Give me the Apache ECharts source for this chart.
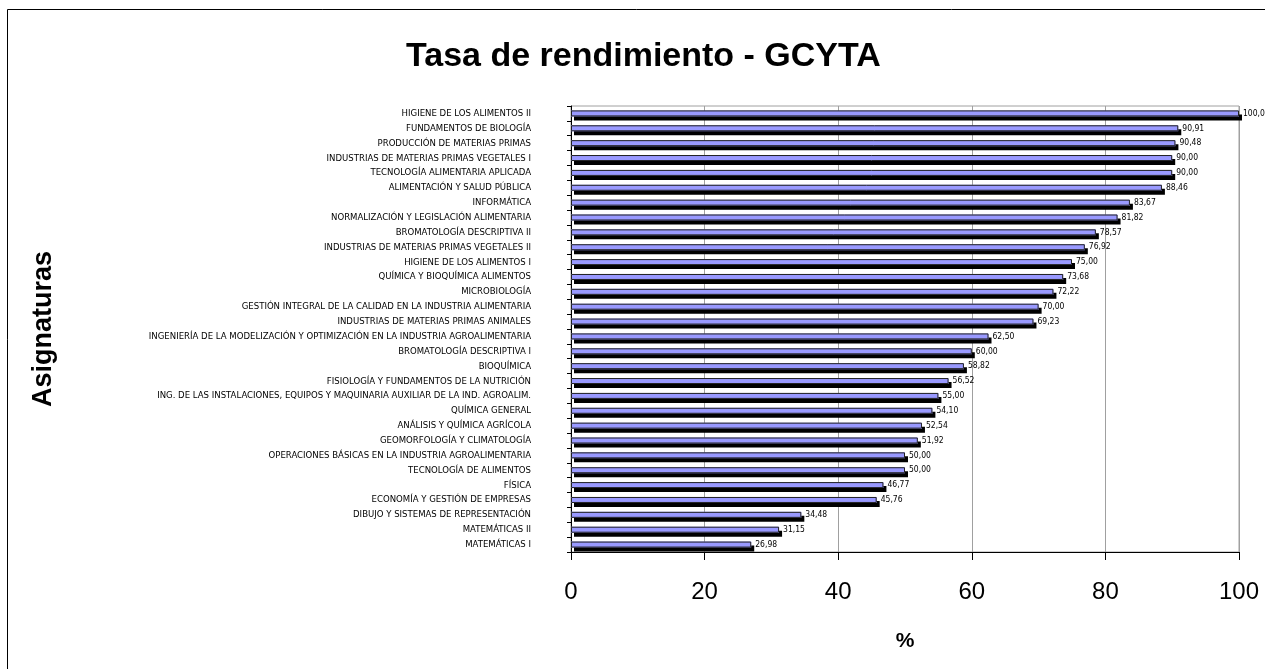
<!DOCTYPE html>
<html>
<head>
<meta charset="utf-8">
<script src="https://cdn.jsdelivr.net/npm/echarts@6/dist/echarts.min.js"></script>
<style>
html,body{margin:0;padding:0;background:#fff;}
#c{width:1265px;height:669px;}
</style>
</head>
<body>
<div id="c"></div>
<script>
const titleText = 'Tasa de rendimiento - GCYTA';
const xAxisName = '%';
const yAxisName = 'Asignaturas';
const categories = [
  'HIGIENE DE LOS ALIMENTOS II',
  'FUNDAMENTOS DE BIOLOGÍA',
  'PRODUCCIÓN DE MATERIAS PRIMAS',
  'INDUSTRIAS DE MATERIAS PRIMAS VEGETALES I',
  'TECNOLOGÍA ALIMENTARIA APLICADA',
  'ALIMENTACIÓN Y SALUD PÚBLICA',
  'INFORMÁTICA',
  'NORMALIZACIÓN Y LEGISLACIÓN ALIMENTARIA',
  'BROMATOLOGÍA DESCRIPTIVA II',
  'INDUSTRIAS DE MATERIAS PRIMAS VEGETALES II',
  'HIGIENE DE LOS ALIMENTOS I',
  'QUÍMICA Y BIOQUÍMICA ALIMENTOS',
  'MICROBIOLOGÍA',
  'GESTIÓN INTEGRAL DE LA CALIDAD EN LA INDUSTRIA ALIMENTARIA',
  'INDUSTRIAS DE MATERIAS PRIMAS ANIMALES',
  'INGENIERÍA DE LA MODELIZACIÓN Y OPTIMIZACIÓN EN LA INDUSTRIA AGROALIMENTARIA',
  'BROMATOLOGÍA DESCRIPTIVA I',
  'BIOQUÍMICA',
  'FISIOLOGÍA Y FUNDAMENTOS DE LA NUTRICIÓN',
  'ING. DE LAS INSTALACIONES, EQUIPOS Y MAQUINARIA AUXILIAR DE LA IND. AGROALIM.',
  'QUÍMICA GENERAL',
  'ANÁLISIS Y QUÍMICA AGRÍCOLA',
  'GEOMORFOLOGÍA Y CLIMATOLOGÍA',
  'OPERACIONES BÁSICAS EN LA INDUSTRIA AGROALIMENTARIA',
  'TECNOLOGÍA DE ALIMENTOS',
  'FÍSICA',
  'ECONOMÍA Y GESTIÓN DE EMPRESAS',
  'DIBUJO Y SISTEMAS DE REPRESENTACIÓN',
  'MATEMÁTICAS II',
  'MATEMÁTICAS I'
];
const values = [
  100.00, 90.91, 90.48, 90.00, 90.00, 88.46, 83.67, 81.82, 78.57, 76.92,
  75.00, 73.68, 72.22, 70.00, 69.23, 62.50, 60.00, 58.82, 56.52, 55.00,
  54.10, 52.54, 51.92, 50.00, 50.00, 46.77, 45.76, 34.48, 31.15, 26.98
];
const xTicks = { min: 0, max: 100, interval: 20 };

const narrow = '"Liberation Sans Narrow","Arial Narrow","DejaVu Sans Condensed","Liberation Sans",Arial,sans-serif';
const sans = '"Liberation Sans",Arial,Helvetica,sans-serif';

const chart = echarts.init(document.getElementById('c'), null, { renderer: 'canvas' });
chart.setOption({
  animation: false,
  backgroundColor: '#fff',
  title: {
    text: titleText,
    left: 401,
    top: 35,
    textStyle: { fontFamily: sans, fontSize: 34, fontWeight: 'bold', color: '#000' }
  },
  graphic: [{
    type: 'rect',
    shape: { x: 7.5, y: 9.5, width: 1300, height: 700 },
    style: { fill: null, stroke: '#000', lineWidth: 1 },
    silent: true
  }],
  grid: {
    left: 571, right: 26, top: 106, bottom: 117,
    show: true, borderColor: '#a0a0a0', borderWidth: 1, containLabel: false
  },
  xAxis: {
    type: 'value',
    min: xTicks.min, max: xTicks.max, interval: xTicks.interval,
    name: xAxisName, nameLocation: 'middle', nameGap: 79,
    nameTextStyle: { fontFamily: sans, fontSize: 21, fontWeight: 'bold', color: '#000' },
    axisLine: { show: true, lineStyle: { color: '#000', width: 1 } },
    axisTick: { show: true, length: 8, lineStyle: { color: '#000' } },
    axisLabel: { fontFamily: sans, fontSize: 24, color: '#000', margin: 28 },
    splitLine: { show: true, lineStyle: { color: '#a0a0a0', width: 1 } }
  },
  yAxis: {
    type: 'category',
    data: categories,
    inverse: true,
    name: yAxisName, nameLocation: 'middle', nameGap: 514, nameRotate: 90,
    nameTextStyle: { fontFamily: sans, fontSize: 27, fontWeight: 'bold', color: '#000' },
    axisLine: { show: true, lineStyle: { color: '#000', width: 1 } },
    axisTick: { show: true, length: 4, alignWithLabel: false, lineStyle: { color: '#000' } },
    axisLabel: { fontFamily: narrow, fontSize: 9.5, color: '#000', margin: 40, interval: 0 },
    splitLine: { show: false }
  },
  series: [{
    type: 'bar',
    data: values,
    barWidth: 6,
    itemStyle: {
      color: '#9999ff',
      borderWidth: 0,
      shadowColor: '#000',
      shadowBlur: 0,
      shadowOffsetX: 3,
      shadowOffsetY: 4
    },
    label: {
      show: true,
      position: 'right',
      distance: 4,
      fontFamily: narrow,
      fontSize: 8.5,
      color: '#000',
      formatter: p => p.value.toFixed(2).replace('.', ',')
    }
  }, {
    type: 'bar',
    data: values,
    barWidth: 6,
    barGap: '-100%',
    silent: true,
    itemStyle: {
      color: 'rgba(0,0,0,0)',
      borderColor: '#202020',
      borderWidth: 1
    }
  }]
});
</script>
</body>
</html>
